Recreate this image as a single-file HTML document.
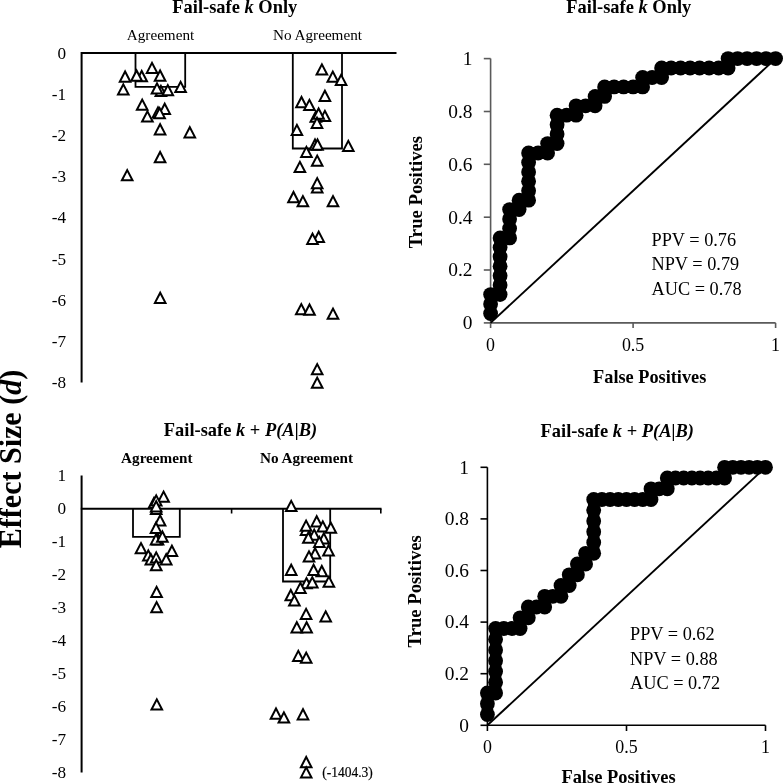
<!DOCTYPE html>
<html><head><meta charset="utf-8"><title>Figure</title>
<style>html,body{margin:0;padding:0;background:#fff}svg{display:block;will-change:transform}text{font-family:"Liberation Serif", serif;fill:#000}</style></head><body>
<svg width="783" height="783" viewBox="0 0 783 783">
<rect width="783" height="783" fill="#fff"/>
<text x="0" y="0" font-size="31.3" text-anchor="middle" font-weight="bold" transform="translate(20.6 459) rotate(-90) scale(0.96 1)">Effect Size (<tspan font-style="italic">d</tspan>)</text>
<text x="234.8" y="13.3" font-size="18.45" text-anchor="middle" font-weight="bold" >Fail-safe <tspan font-style="italic">k</tspan> Only</text>
<text x="160.5" y="40" font-size="15.2" text-anchor="middle" font-weight="normal" >Agreement</text>
<text x="317.5" y="40" font-size="15.2" text-anchor="middle" font-weight="normal" >No Agreement</text>
<text x="66.2" y="58.5" font-size="17.2" text-anchor="end" font-weight="normal" >0</text>
<text x="66.2" y="99.7" font-size="17.2" text-anchor="end" font-weight="normal" >-1</text>
<text x="66.2" y="140.9" font-size="17.2" text-anchor="end" font-weight="normal" >-2</text>
<text x="66.2" y="182.1" font-size="17.2" text-anchor="end" font-weight="normal" >-3</text>
<text x="66.2" y="223.3" font-size="17.2" text-anchor="end" font-weight="normal" >-4</text>
<text x="66.2" y="264.5" font-size="17.2" text-anchor="end" font-weight="normal" >-5</text>
<text x="66.2" y="305.7" font-size="17.2" text-anchor="end" font-weight="normal" >-6</text>
<text x="66.2" y="346.9" font-size="17.2" text-anchor="end" font-weight="normal" >-7</text>
<text x="66.2" y="388.1" font-size="17.2" text-anchor="end" font-weight="normal" >-8</text>
<g fill="none" stroke="#000" stroke-width="1.8">
<path d="M135.5 53.0V86.8H185.2V53.0"/>
<path d="M292.8 53.0V148.5H342V53.0"/>
</g>
<path d="M81.6 382.5V53.0H396.5" fill="none" stroke="#000" stroke-width="2"/>
<g fill="#fff" stroke="#000" stroke-width="2.0" stroke-linejoin="miter">
<path d="M146.7 73.1L152.0 62.9L157.3 73.1Z"/>
<path d="M119.8 81.7L125.1 71.5L130.4 81.7Z"/>
<path d="M136.4 81.2L141.7 71.0L147.0 81.2Z"/>
<path d="M131.3 80.7L136.6 70.5L141.9 80.7Z"/>
<path d="M154.8 80.7L160.1 70.5L165.4 80.7Z"/>
<path d="M118.0 94.5L123.3 84.3L128.6 94.5Z"/>
<path d="M155.6 96.0L160.9 85.8L166.2 96.0Z"/>
<path d="M151.7 93.5L157.0 83.3L162.3 93.5Z"/>
<path d="M162.5 95.3L167.8 85.1L173.1 95.3Z"/>
<path d="M175.3 92.0L180.6 81.8L185.9 92.0Z"/>
<path d="M136.9 109.8L142.2 99.6L147.5 109.8Z"/>
<path d="M159.4 113.9L164.7 103.7L170.0 113.9Z"/>
<path d="M152.7 117.5L158.0 107.3L163.3 117.5Z"/>
<path d="M154.3 118.3L159.6 108.1L164.9 118.3Z"/>
<path d="M142.1 121.5L147.4 111.3L152.7 121.5Z"/>
<path d="M154.8 134.4L160.1 124.2L165.4 134.4Z"/>
<path d="M184.5 137.4L189.8 127.2L195.1 137.4Z"/>
<path d="M154.8 162.2L160.1 152.0L165.4 162.2Z"/>
<path d="M121.9 180.3L127.2 170.1L132.5 180.3Z"/>
<path d="M154.9 302.9L160.2 292.7L165.5 302.9Z"/>
<path d="M316.6 74.5L321.9 64.3L327.2 74.5Z"/>
<path d="M327.5 81.8L332.8 71.6L338.1 81.8Z"/>
<path d="M335.8 85.0L341.1 74.8L346.4 85.0Z"/>
<path d="M319.6 100.9L324.9 90.7L330.2 100.9Z"/>
<path d="M296.2 107.2L301.5 97.0L306.8 107.2Z"/>
<path d="M304.1 110.1L309.4 99.9L314.7 110.1Z"/>
<path d="M319.6 121.1L324.9 110.9L330.2 121.1Z"/>
<path d="M310.5 121.8L315.8 111.6L321.1 121.8Z"/>
<path d="M313.3 118.7L318.6 108.5L323.9 118.7Z"/>
<path d="M311.7 127.9L317.0 117.7L322.3 127.9Z"/>
<path d="M291.6 135.1L296.9 124.9L302.2 135.1Z"/>
<path d="M309.7 149.7L315.0 139.5L320.3 149.7Z"/>
<path d="M312.2 149.7L317.5 139.5L322.8 149.7Z"/>
<path d="M343.0 151.1L348.3 140.9L353.6 151.1Z"/>
<path d="M301.1 157.1L306.4 146.9L311.7 157.1Z"/>
<path d="M311.9 165.8L317.2 155.6L322.5 165.8Z"/>
<path d="M294.6 172.0L299.9 161.8L305.2 172.0Z"/>
<path d="M311.9 192.4L317.2 182.2L322.5 192.4Z"/>
<path d="M311.9 188.3L317.2 178.1L322.5 188.3Z"/>
<path d="M288.2 202.2L293.5 192.0L298.8 202.2Z"/>
<path d="M297.6 206.3L302.9 196.1L308.2 206.3Z"/>
<path d="M327.7 206.3L333.0 196.1L338.3 206.3Z"/>
<path d="M313.4 241.9L318.7 231.7L324.0 241.9Z"/>
<path d="M307.2 243.9L312.5 233.7L317.8 243.9Z"/>
<path d="M296.0 314.3L301.3 304.1L306.6 314.3Z"/>
<path d="M304.2 314.7L309.5 304.5L314.8 314.7Z"/>
<path d="M327.7 318.8L333.0 308.6L338.3 318.8Z"/>
<path d="M311.9 374.3L317.2 364.1L322.5 374.3Z"/>
<path d="M311.9 387.8L317.2 377.6L322.5 387.8Z"/>
</g>
<text x="240.5" y="436" font-size="18.45" text-anchor="middle" font-weight="bold" >Fail-safe <tspan font-style="italic">k</tspan> + <tspan font-style="italic">P(A|B)</tspan></text>
<text x="156.8" y="463" font-size="15.2" text-anchor="middle" font-weight="bold" >Agreement</text>
<text x="306.5" y="463" font-size="15.2" text-anchor="middle" font-weight="bold" >No Agreement</text>
<text x="66.1" y="480.6" font-size="17.2" text-anchor="end" font-weight="normal" >1</text>
<text x="66.1" y="513.7" font-size="17.2" text-anchor="end" font-weight="normal" >0</text>
<text x="66.1" y="546.8" font-size="17.2" text-anchor="end" font-weight="normal" >-1</text>
<text x="66.1" y="579.8" font-size="17.2" text-anchor="end" font-weight="normal" >-2</text>
<text x="66.1" y="612.9" font-size="17.2" text-anchor="end" font-weight="normal" >-3</text>
<text x="66.1" y="645.9" font-size="17.2" text-anchor="end" font-weight="normal" >-4</text>
<text x="66.1" y="679.0" font-size="17.2" text-anchor="end" font-weight="normal" >-5</text>
<text x="66.1" y="712.0" font-size="17.2" text-anchor="end" font-weight="normal" >-6</text>
<text x="66.1" y="745.0" font-size="17.2" text-anchor="end" font-weight="normal" >-7</text>
<text x="66.1" y="778.1" font-size="17.2" text-anchor="end" font-weight="normal" >-8</text>
<g fill="none" stroke="#000" stroke-width="1.8">
<path d="M133 508.7V536.9H179.8V508.7"/>
<path d="M283 508.7V581.5H330.2V508.7"/>
</g>
<g fill="none" stroke="#000" stroke-width="2">
<path d="M81.6 772.6V475.6"/>
<path d="M80.8 508.7H381.5"/>
<path d="M231.6 508.7V513.5M380.8 508.7V513.5" stroke-width="1.6"/>
</g>
<g fill="#fff" stroke="#000" stroke-width="2.0" stroke-linejoin="miter">
<path d="M158.3 501.8L163.6 491.6L168.9 501.8Z"/>
<path d="M148.7 508.0L154.0 497.8L159.3 508.0Z"/>
<path d="M150.9 505.5L156.2 495.3L161.5 505.5Z"/>
<path d="M150.9 514.0L156.2 503.8L161.5 514.0Z"/>
<path d="M150.9 511.4L156.2 501.2L161.5 511.4Z"/>
<path d="M154.8 525.5L160.1 515.3L165.4 525.5Z"/>
<path d="M150.7 532.9L156.0 522.7L161.3 532.9Z"/>
<path d="M152.7 544.5L158.0 534.3L163.3 544.5Z"/>
<path d="M150.7 544.6L156.0 534.4L161.3 544.6Z"/>
<path d="M157.1 541.7L162.4 531.5L167.7 541.7Z"/>
<path d="M135.7 553.3L141.0 543.1L146.3 553.3Z"/>
<path d="M166.6 555.9L171.9 545.7L177.2 555.9Z"/>
<path d="M143.0 560.6L148.3 550.4L153.6 560.6Z"/>
<path d="M145.6 564.4L150.9 554.2L156.2 564.4Z"/>
<path d="M150.9 562.5L156.2 552.3L161.5 562.5Z"/>
<path d="M160.9 564.4L166.2 554.2L171.5 564.4Z"/>
<path d="M150.9 570.2L156.2 560.0L161.5 570.2Z"/>
<path d="M151.3 597.0L156.6 586.8L161.9 597.0Z"/>
<path d="M151.3 612.3L156.6 602.1L161.9 612.3Z"/>
<path d="M151.5 709.5L156.8 699.3L162.1 709.5Z"/>
<path d="M285.9 511.1L291.2 500.9L296.5 511.1Z"/>
<path d="M311.4 526.4L316.7 516.2L322.0 526.4Z"/>
<path d="M300.7 535.1L306.0 524.9L311.3 535.1Z"/>
<path d="M300.8 530.8L306.1 520.6L311.4 530.8Z"/>
<path d="M317.5 531.6L322.8 521.4L328.1 531.6Z"/>
<path d="M325.5 532.8L330.8 522.6L336.1 532.8Z"/>
<path d="M308.9 539.8L314.2 529.6L319.5 539.8Z"/>
<path d="M318.5 543.5L323.8 533.3L329.1 543.5Z"/>
<path d="M303.1 542.7L308.4 532.5L313.7 542.7Z"/>
<path d="M314.0 547.1L319.3 536.9L324.6 547.1Z"/>
<path d="M323.2 555.5L328.5 545.3L333.8 555.5Z"/>
<path d="M309.8 558.4L315.1 548.2L320.4 558.4Z"/>
<path d="M303.7 561.5L309.0 551.3L314.3 561.5Z"/>
<path d="M285.9 574.9L291.2 564.7L296.5 574.9Z"/>
<path d="M316.5 576.2L321.8 566.0L327.1 576.2Z"/>
<path d="M308.3 574.9L313.6 564.7L318.9 574.9Z"/>
<path d="M301.2 588.3L306.5 578.1L311.8 588.3Z"/>
<path d="M307.0 587.4L312.3 577.2L317.6 587.4Z"/>
<path d="M323.6 586.8L328.9 576.6L334.2 586.8Z"/>
<path d="M295.1 593.1L300.4 582.9L305.7 593.1Z"/>
<path d="M285.5 600.2L290.8 590.0L296.1 600.2Z"/>
<path d="M289.1 605.5L294.4 595.3L299.7 605.5Z"/>
<path d="M300.8 619.0L306.1 608.8L311.4 619.0Z"/>
<path d="M320.4 621.5L325.7 611.3L331.0 621.5Z"/>
<path d="M291.5 632.4L296.8 622.2L302.1 632.4Z"/>
<path d="M301.3 632.4L306.6 622.2L311.9 632.4Z"/>
<path d="M293.0 661.1L298.3 650.9L303.6 661.1Z"/>
<path d="M300.9 662.8L306.2 652.6L311.5 662.8Z"/>
<path d="M270.7 718.7L276.0 708.5L281.3 718.7Z"/>
<path d="M278.6 722.5L283.9 712.3L289.2 722.5Z"/>
<path d="M297.7 719.4L303.0 709.2L308.3 719.4Z"/>
<path d="M300.9 767.2L306.2 757.0L311.5 767.2Z"/>
<path d="M300.9 777.6L306.2 767.4L311.5 777.6Z"/>
</g>
<text x="0" y="0" font-size="14.6" text-anchor="start" font-weight="normal" stroke="#000" stroke-width="0.2" transform="translate(322.2 777.2) scale(0.925 1)">(-1404.3)</text>
<text x="628.8" y="13.4" font-size="18.45" text-anchor="middle" font-weight="bold" >Fail-safe <tspan font-style="italic">k</tspan> Only</text>
<g fill="none" stroke="#5a5a5a" stroke-width="1.6">
<path d="M490.6 58.6V322.9H775.6"/>
<path d="M483.8 322.9H490.6"/>
<path d="M483.8 270.0H490.6"/>
<path d="M483.8 217.2H490.6"/>
<path d="M483.8 164.3H490.6"/>
<path d="M483.8 111.5H490.6"/>
<path d="M483.8 58.6H490.6"/>
<path d="M490.6 322.9V328"/>
<path d="M633.1 322.9V328"/>
<path d="M775.6 322.9V328"/>
</g>
<text x="472.5" y="329.2" font-size="19.4" text-anchor="end" font-weight="normal" >0</text>
<text x="472.5" y="276.3" font-size="19.4" text-anchor="end" font-weight="normal" >0.2</text>
<text x="472.5" y="223.5" font-size="19.4" text-anchor="end" font-weight="normal" >0.4</text>
<text x="472.5" y="170.6" font-size="19.4" text-anchor="end" font-weight="normal" >0.6</text>
<text x="472.5" y="117.8" font-size="19.4" text-anchor="end" font-weight="normal" >0.8</text>
<text x="472.5" y="64.9" font-size="19.4" text-anchor="end" font-weight="normal" >1</text>
<text x="490.6" y="350.5" font-size="17.9" text-anchor="middle" font-weight="normal" >0</text>
<text x="633.1" y="350.5" font-size="17.9" text-anchor="middle" font-weight="normal" >0.5</text>
<text x="775.6" y="350.5" font-size="17.9" text-anchor="middle" font-weight="normal" >1</text>
<path d="M490.6 322.9L775.6 58.6" stroke="#000" stroke-width="1.9"/>
<path d="M490.6 313.5L490.6 304.0L490.6 294.6L500.1 294.6L500.1 285.1L500.1 275.7L500.1 266.3L500.1 256.8L500.1 247.4L500.1 237.9L509.6 237.9L509.6 228.5L509.6 219.1L509.6 209.6L519.1 209.6L519.1 200.2L528.6 200.2L528.6 190.8L528.6 181.3L528.6 171.9L528.6 162.4L528.6 153.0L538.1 153.0L547.6 153.0L547.6 143.6L557.1 143.6L557.1 134.1L557.1 124.7L557.1 115.2L566.6 115.2L576.1 115.2L576.1 105.8L585.6 105.8L595.1 105.8L595.1 96.4L604.6 96.4L604.6 86.9L614.1 86.9L623.6 86.9L633.1 86.9L642.6 86.9L642.6 77.5L652.1 77.5L661.6 77.5L661.6 68.0L671.1 68.0L680.6 68.0L690.1 68.0L699.6 68.0L709.1 68.0L718.6 68.0L728.1 68.0L728.1 58.6L737.6 58.6L747.1 58.6L756.6 58.6L766.1 58.6L775.6 58.6" fill="none" stroke="#000" stroke-width="11.5" stroke-linejoin="round"/>
<g fill="#000"><circle cx="490.6" cy="313.5" r="7.4"/><circle cx="490.6" cy="304.0" r="7.4"/><circle cx="490.6" cy="294.6" r="7.4"/><circle cx="500.1" cy="294.6" r="7.4"/><circle cx="500.1" cy="285.1" r="7.4"/><circle cx="500.1" cy="275.7" r="7.4"/><circle cx="500.1" cy="266.3" r="7.4"/><circle cx="500.1" cy="256.8" r="7.4"/><circle cx="500.1" cy="247.4" r="7.4"/><circle cx="500.1" cy="237.9" r="7.4"/><circle cx="509.6" cy="237.9" r="7.4"/><circle cx="509.6" cy="228.5" r="7.4"/><circle cx="509.6" cy="219.1" r="7.4"/><circle cx="509.6" cy="209.6" r="7.4"/><circle cx="519.1" cy="209.6" r="7.4"/><circle cx="519.1" cy="200.2" r="7.4"/><circle cx="528.6" cy="200.2" r="7.4"/><circle cx="528.6" cy="190.8" r="7.4"/><circle cx="528.6" cy="181.3" r="7.4"/><circle cx="528.6" cy="171.9" r="7.4"/><circle cx="528.6" cy="162.4" r="7.4"/><circle cx="528.6" cy="153.0" r="7.4"/><circle cx="538.1" cy="153.0" r="7.4"/><circle cx="547.6" cy="153.0" r="7.4"/><circle cx="547.6" cy="143.6" r="7.4"/><circle cx="557.1" cy="143.6" r="7.4"/><circle cx="557.1" cy="134.1" r="7.4"/><circle cx="557.1" cy="124.7" r="7.4"/><circle cx="557.1" cy="115.2" r="7.4"/><circle cx="566.6" cy="115.2" r="7.4"/><circle cx="576.1" cy="115.2" r="7.4"/><circle cx="576.1" cy="105.8" r="7.4"/><circle cx="585.6" cy="105.8" r="7.4"/><circle cx="595.1" cy="105.8" r="7.4"/><circle cx="595.1" cy="96.4" r="7.4"/><circle cx="604.6" cy="96.4" r="7.4"/><circle cx="604.6" cy="86.9" r="7.4"/><circle cx="614.1" cy="86.9" r="7.4"/><circle cx="623.6" cy="86.9" r="7.4"/><circle cx="633.1" cy="86.9" r="7.4"/><circle cx="642.6" cy="86.9" r="7.4"/><circle cx="642.6" cy="77.5" r="7.4"/><circle cx="652.1" cy="77.5" r="7.4"/><circle cx="661.6" cy="77.5" r="7.4"/><circle cx="661.6" cy="68.0" r="7.4"/><circle cx="671.1" cy="68.0" r="7.4"/><circle cx="680.6" cy="68.0" r="7.4"/><circle cx="690.1" cy="68.0" r="7.4"/><circle cx="699.6" cy="68.0" r="7.4"/><circle cx="709.1" cy="68.0" r="7.4"/><circle cx="718.6" cy="68.0" r="7.4"/><circle cx="728.1" cy="68.0" r="7.4"/><circle cx="728.1" cy="58.6" r="7.4"/><circle cx="737.6" cy="58.6" r="7.4"/><circle cx="747.1" cy="58.6" r="7.4"/><circle cx="756.6" cy="58.6" r="7.4"/><circle cx="766.1" cy="58.6" r="7.4"/><circle cx="775.6" cy="58.6" r="7.4"/></g>
<text x="651.5" y="246" font-size="18.3" text-anchor="start" font-weight="normal" >PPV = 0.76</text>
<text x="651.5" y="270.3" font-size="18.3" text-anchor="start" font-weight="normal" >NPV = 0.79</text>
<text x="651.5" y="294.5" font-size="18.3" text-anchor="start" font-weight="normal" >AUC = 0.78</text>
<text x="649.7" y="382.7" font-size="18.3" text-anchor="middle" font-weight="bold" >False Positives</text>
<text x="0" y="0" font-size="18.7" text-anchor="middle" font-weight="bold" transform="translate(421.5 192.1) rotate(-90)">True Positives</text>
<text x="617.3" y="436.8" font-size="18.45" text-anchor="middle" font-weight="bold" >Fail-safe <tspan font-style="italic">k</tspan> + <tspan font-style="italic">P(A|B)</tspan></text>
<g fill="none" stroke="#000" stroke-width="1.6">
<path d="M487.4 467.3V725.3H765.5"/>
<path d="M480.5 725.3H487.4"/>
<path d="M480.5 673.7H487.4"/>
<path d="M480.5 622.1H487.4"/>
<path d="M480.5 570.5H487.4"/>
<path d="M480.5 518.9H487.4"/>
<path d="M480.5 467.3H487.4"/>
<path d="M487.4 725.3V731"/>
<path d="M626.5 725.3V731"/>
<path d="M765.5 725.3V731"/>
</g>
<text x="469" y="731.6" font-size="19.4" text-anchor="end" font-weight="normal" >0</text>
<text x="469" y="680.0" font-size="19.4" text-anchor="end" font-weight="normal" >0.2</text>
<text x="469" y="628.4" font-size="19.4" text-anchor="end" font-weight="normal" >0.4</text>
<text x="469" y="576.8" font-size="19.4" text-anchor="end" font-weight="normal" >0.6</text>
<text x="469" y="525.2" font-size="19.4" text-anchor="end" font-weight="normal" >0.8</text>
<text x="469" y="473.6" font-size="19.4" text-anchor="end" font-weight="normal" >1</text>
<text x="487.4" y="752.9" font-size="17.9" text-anchor="middle" font-weight="normal" >0</text>
<text x="626.5" y="752.9" font-size="17.9" text-anchor="middle" font-weight="normal" >0.5</text>
<text x="765.5" y="752.9" font-size="17.9" text-anchor="middle" font-weight="normal" >1</text>
<path d="M487.4 725.3L765.5 467.3" stroke="#000" stroke-width="1.9"/>
<path d="M487.4 714.5L487.4 703.8L487.4 693.0L495.6 693.0L495.6 682.3L495.6 671.5L495.6 660.8L495.6 650.0L495.6 639.3L495.6 628.5L503.8 628.5L511.9 628.5L520.1 628.5L520.1 617.8L528.3 617.8L528.3 607.0L536.5 607.0L544.7 607.0L544.7 596.3L552.8 596.3L561.0 596.3L561.0 585.5L569.2 585.5L569.2 574.8L577.4 574.8L577.4 564.0L585.6 564.0L585.6 553.3L593.7 553.3L593.7 542.5L593.7 531.8L593.7 521.0L593.7 510.3L593.7 499.5L601.9 499.5L610.1 499.5L618.3 499.5L626.5 499.5L634.6 499.5L642.8 499.5L651.0 499.5L651.0 488.8L659.2 488.8L667.3 488.8L667.3 478.0L675.5 478.0L683.7 478.0L691.9 478.0L700.1 478.0L708.2 478.0L716.4 478.0L724.6 478.0L724.6 467.3L732.8 467.3L741.0 467.3L749.1 467.3L757.3 467.3L765.5 467.3" fill="none" stroke="#000" stroke-width="11.5" stroke-linejoin="round"/>
<g fill="#000"><circle cx="487.4" cy="714.5" r="7.4"/><circle cx="487.4" cy="703.8" r="7.4"/><circle cx="487.4" cy="693.0" r="7.4"/><circle cx="495.6" cy="693.0" r="7.4"/><circle cx="495.6" cy="682.3" r="7.4"/><circle cx="495.6" cy="671.5" r="7.4"/><circle cx="495.6" cy="660.8" r="7.4"/><circle cx="495.6" cy="650.0" r="7.4"/><circle cx="495.6" cy="639.3" r="7.4"/><circle cx="495.6" cy="628.5" r="7.4"/><circle cx="503.8" cy="628.5" r="7.4"/><circle cx="511.9" cy="628.5" r="7.4"/><circle cx="520.1" cy="628.5" r="7.4"/><circle cx="520.1" cy="617.8" r="7.4"/><circle cx="528.3" cy="617.8" r="7.4"/><circle cx="528.3" cy="607.0" r="7.4"/><circle cx="536.5" cy="607.0" r="7.4"/><circle cx="544.7" cy="607.0" r="7.4"/><circle cx="544.7" cy="596.3" r="7.4"/><circle cx="552.8" cy="596.3" r="7.4"/><circle cx="561.0" cy="596.3" r="7.4"/><circle cx="561.0" cy="585.5" r="7.4"/><circle cx="569.2" cy="585.5" r="7.4"/><circle cx="569.2" cy="574.8" r="7.4"/><circle cx="577.4" cy="574.8" r="7.4"/><circle cx="577.4" cy="564.0" r="7.4"/><circle cx="585.6" cy="564.0" r="7.4"/><circle cx="585.6" cy="553.3" r="7.4"/><circle cx="593.7" cy="553.3" r="7.4"/><circle cx="593.7" cy="542.5" r="7.4"/><circle cx="593.7" cy="531.8" r="7.4"/><circle cx="593.7" cy="521.0" r="7.4"/><circle cx="593.7" cy="510.3" r="7.4"/><circle cx="593.7" cy="499.5" r="7.4"/><circle cx="601.9" cy="499.5" r="7.4"/><circle cx="610.1" cy="499.5" r="7.4"/><circle cx="618.3" cy="499.5" r="7.4"/><circle cx="626.5" cy="499.5" r="7.4"/><circle cx="634.6" cy="499.5" r="7.4"/><circle cx="642.8" cy="499.5" r="7.4"/><circle cx="651.0" cy="499.5" r="7.4"/><circle cx="651.0" cy="488.8" r="7.4"/><circle cx="659.2" cy="488.8" r="7.4"/><circle cx="667.3" cy="488.8" r="7.4"/><circle cx="667.3" cy="478.0" r="7.4"/><circle cx="675.5" cy="478.0" r="7.4"/><circle cx="683.7" cy="478.0" r="7.4"/><circle cx="691.9" cy="478.0" r="7.4"/><circle cx="700.1" cy="478.0" r="7.4"/><circle cx="708.2" cy="478.0" r="7.4"/><circle cx="716.4" cy="478.0" r="7.4"/><circle cx="724.6" cy="478.0" r="7.4"/><circle cx="724.6" cy="467.3" r="7.4"/><circle cx="732.8" cy="467.3" r="7.4"/><circle cx="741.0" cy="467.3" r="7.4"/><circle cx="749.1" cy="467.3" r="7.4"/><circle cx="757.3" cy="467.3" r="7.4"/><circle cx="765.5" cy="467.3" r="7.4"/></g>
<text x="630" y="640" font-size="18.3" text-anchor="start" font-weight="normal" >PPV = 0.62</text>
<text x="630" y="664.5" font-size="18.3" text-anchor="start" font-weight="normal" >NPV = 0.88</text>
<text x="630" y="688.9" font-size="18.3" text-anchor="start" font-weight="normal" >AUC = 0.72</text>
<text x="618.5" y="783.1" font-size="18.47" text-anchor="middle" font-weight="bold" >False Positives</text>
<text x="0" y="0" font-size="18.7" text-anchor="middle" font-weight="bold" transform="translate(421 591.3) rotate(-90)">True Positives</text>
</svg></body></html>
